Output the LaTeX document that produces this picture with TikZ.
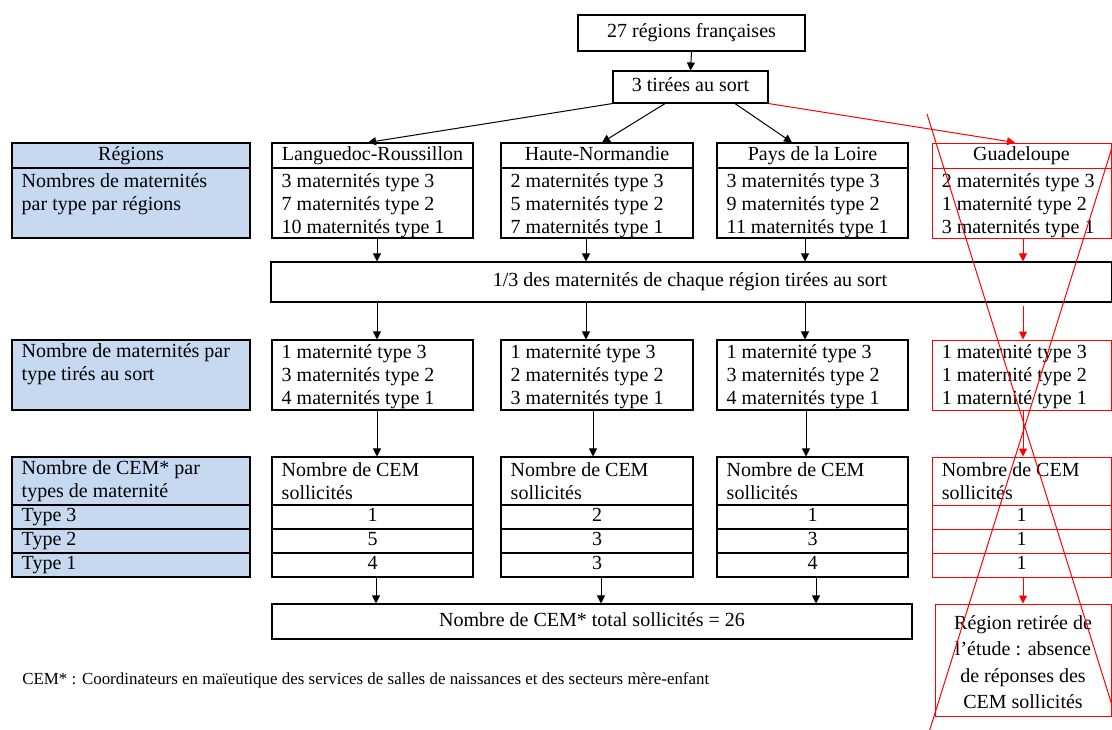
\documentclass[tikz,border=0pt]{standalone}
\usepackage{fontspec}
\setmainfont{Liberation Serif}
\usetikzlibrary{fit,arrows.meta}
\definecolor{bluefill}{RGB}{198,217,241}
\begin{document}
\begin{tikzpicture}[x=0.75pt,y=-0.75pt,
  font=\fontsize{15}{17.25}\selectfont,
  cell/.style={draw=black, line width=0.8pt, inner sep=0pt, fit={#1}},
  bcell/.style={cell={#1}, fill=bluefill},
  rcell/.style={draw=red, line width=0.75pt, inner sep=0pt, fit={#1}},
  ct/.style={label={[text height=10.5pt, text depth=3.2pt]center:#1}},
  tl/.style={align=left, inner sep=0pt, anchor=west},
  arr/.style={-{Triangle[length=6pt,width=6pt]}, line width=0.75pt, black},
  rarr/.style={-{Triangle[length=6pt,width=6pt]}, line width=0.75pt, red},
  cross/.style={red, line width=0.75pt}]
\clip (0,0) rectangle (1112,729);
% top
\node[cell={(578,15) (805,51)}, ct={27 régions françaises}] (A) {};
\node[cell={(613,71) (768,103)}, ct={3 tirées au sort}] (B) {};
% row 1
\node[bcell={(12,143) (250,168)}, ct={Régions}] (regh) {};
\node[bcell={(12,168) (250,238)}] (regb) {};
\node[tl] (regbt) at ([xshift=7.5pt,yshift=-3pt]regb.west) {Nombres de maternités\\par type par régions\\\strut};
\node[cell={(272,143) (473,168)}, ct={Languedoc-Roussillon}] (lrh) {};
\node[cell={(272,168) (473,238)}] (lrb) {};
\node[tl] (lrbt) at ([xshift=7.5pt,yshift=-2pt]lrb.west) {3 maternités type 3\\7 maternités type 2\\10 maternités type 1};
\node[cell={(501,143) (693,168)}, ct={Haute-Normandie}] (hnh) {};
\node[cell={(501,168) (693,238)}] (hnb) {};
\node[tl] (hnbt) at ([xshift=7.5pt,yshift=-2pt]hnb.west) {2 maternités type 3\\5 maternités type 2\\7 maternités type 1};
\node[cell={(717,143) (908,168)}, ct={Pays de la Loire}] (plh) {};
\node[cell={(717,168) (908,238)}] (plb) {};
\node[tl] (plbt) at ([xshift=7.5pt,yshift=-2pt]plb.west) {3 maternités type 3\\9 maternités type 2\\11 maternités type 1};
\node[rcell={(932,143) (1111,168)}, ct={Guadeloupe}] (guh) {};
\node[rcell={(932,168) (1111,238)}] (gub) {};
\node[tl] (gubt) at ([xshift=7.5pt,yshift=-2pt]gub.west) {2 maternités type 3\\1 maternité type 2\\3 maternités type 1};
% long box
\node[cell={(271,262) (1112,302)}] (long) {};
\node[text height=10.5pt, text depth=3.2pt] (longt) at (690,282) {1/3 des maternités de chaque région tirées au sort};
% row 2
\node[bcell={(12,340) (250,410)}] (reg2) {};
\node[tl] (reg2t) at ([xshift=7.5pt,yshift=-1.5pt]reg2.west) {Nombre de maternités par\\type tirés au sort\\\strut};
\node[cell={(272,340) (473,410)}] (lr2) {};
\node[tl] (lr2t) at ([xshift=7.5pt,yshift=-1.5pt]lr2.west) {1 maternité type 3\\3 maternités type 2\\4 maternités type 1};
\node[cell={(501,340) (693,410)}] (hn2) {};
\node[tl] (hn2t) at ([xshift=7.5pt,yshift=-1.5pt]hn2.west) {1 maternité type 3\\2 maternités type 2\\3 maternités type 1};
\node[cell={(717,340) (908,410)}] (pl2) {};
\node[tl] (pl2t) at ([xshift=7.5pt,yshift=-1.5pt]pl2.west) {1 maternité type 3\\3 maternités type 2\\4 maternités type 1};
\node[rcell={(932,340) (1111,410)}] (gu2) {};
\node[tl] (gu2t) at ([xshift=7.5pt,yshift=-1.5pt]gu2.west) {1 maternité type 3\\1 maternité type 2\\1 maternité type 1};
% row 3
\node[bcell={(12,457) (250,505)}] (reg3) {};
\node[tl] (reg3t) at ([xshift=7.5pt]reg3.west) {Nombre de CEM* par\\types de maternité};
\node[bcell={(12,505) (250,529)}] (regA) {};
\node[tl] (regAt) at ([xshift=7.5pt]regA.west) {Type 3};
\node[bcell={(12,529) (250,553)}] (regB) {};
\node[tl] (regBt) at ([xshift=7.5pt]regB.west) {Type 2};
\node[bcell={(12,553) (250,577)}] (regC) {};
\node[tl] (regCt) at ([xshift=7.5pt]regC.west) {Type 1};
\node[cell={(272,457) (473,505)}] (lr3) {};
\node[tl] (lr3t) at ([xshift=7.5pt]lr3.west) {Nombre de CEM\\sollicités};
\node[cell={(272,505) (473,529)}, ct=1] (lrA) {};
\node[cell={(272,529) (473,553)}, ct=5] (lrB) {};
\node[cell={(272,553) (473,577)}, ct=4] (lrC) {};
\node[cell={(501,457) (693,505)}] (hn3) {};
\node[tl] (hn3t) at ([xshift=7.5pt]hn3.west) {Nombre de CEM\\sollicités};
\node[cell={(501,505) (693,529)}, ct=2] (hnA) {};
\node[cell={(501,529) (693,553)}, ct=3] (hnB) {};
\node[cell={(501,553) (693,577)}, ct=3] (hnC) {};
\node[cell={(717,457) (908,505)}] (pl3) {};
\node[tl] (pl3t) at ([xshift=7.5pt]pl3.west) {Nombre de CEM\\sollicités};
\node[cell={(717,505) (908,529)}, ct=1] (plA) {};
\node[cell={(717,529) (908,553)}, ct=3] (plB) {};
\node[cell={(717,553) (908,577)}, ct=4] (plC) {};
\node[rcell={(932,457) (1111,505)}] (gu3) {};
\node[tl] (gu3t) at ([xshift=7.5pt]gu3.west) {Nombre de CEM\\sollicités};
\node[rcell={(932,505) (1111,529)}, ct=1] (guA) {};
\node[rcell={(932,529) (1111,553)}, ct=1] (guB) {};
\node[rcell={(932,553) (1111,577)}, ct=1] (guC) {};
% bottom
\node[cell={(272,604) (912,639)}, ct={Nombre de CEM* total sollicités = 26}] (total) {};
\node[rcell={(935,604) (1111,716)}] (retire) {};
\node[align=center, inner sep=0pt, font=\fontsize{15}{19.9}\selectfont] (retiret) at ([yshift=-1.5pt]retire.center) {Région retirée de\\l’étude : absence\\de réponses des\\CEM sollicités};
\node[anchor=west, inner sep=0pt, font=\fontsize{12.7}{14}\selectfont] (foot) at (22,680) {CEM* : Coordinateurs en maïeutique des services de salles de naissances et des secteurs mère-enfant};
% arrows
\draw[arr] (A.south) -- (B.north);
\draw[arr] (B.south west) -- (lrh.north -| 368,0);
\draw[arr] (B.south -| 665,0) -- (hnh.north -| 602,0);
\draw[arr] (B.south -| 735,0) -- (plh.north -| 792,0);
\draw[rarr] (B.south east) -- (guh.north -| 1015,0);
\draw[arr] (lrb.south -| 377,0) -- (long.north -| 377,0);
\draw[arr] (hnb.south -| 586,0) -- (long.north -| 586,0);
\draw[arr] (plb.south -| 805,0) -- (long.north -| 805,0);
\draw[rarr] (gub.south -| 1023,0) -- (long.north -| 1023,0);
\draw[arr] (long.south -| 377,0) -- (lr2.north -| 377,0);
\draw[arr] (long.south -| 586,0) -- (hn2.north -| 586,0);
\draw[arr] (long.south -| 805,0) -- (pl2.north -| 805,0);
\draw[rarr] ([yshift=-2.25pt]long.south -| 1023,0) -- (gu2.north -| 1023,0);
\draw[arr] (lr2.south -| 377,0) -- (lr3.north -| 377,0);
\draw[arr] (hn2.south -| 593,0) -- (hn3.north -| 593,0);
\draw[arr] (pl2.south -| 806,0) -- (pl3.north -| 806,0);
\draw[rarr] (gu2.south -| 1023,0) -- (gu3.north -| 1023,0);
\draw[arr] (lrC.south -| 376,0) -- (total.north -| 376,0);
\draw[arr] (hnC.south -| 601,0) -- (total.north -| 601,0);
\draw[arr] (plC.south -| 816,0) -- (total.north -| 816,0);
\draw[rarr] (guC.south -| 1023,0) -- (retire.north -| 1023,0);
% red cross
\draw[cross] (927,114) -- (1116,718);
\draw[cross] (1120,122) -- (925,745);
\end{tikzpicture}
\end{document}
